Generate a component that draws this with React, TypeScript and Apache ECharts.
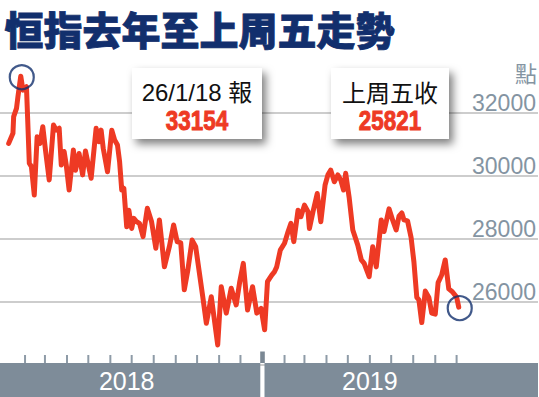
import React, { useEffect, useRef } from 'react';
import * as echarts from 'echarts';

const TITLE = '恒指去年至上周五走勢';
const UNIT = '點';
const PEAK_LABEL = '26/1/18 報';
const PEAK_VALUE = '33154';
const LAST_LABEL = '上周五收';
const LAST_VALUE = '25821';

const dates = [
  '2018-01-09','2018-01-15','2018-01-16','2018-01-20','2018-01-22','2018-01-26','2018-01-29','2018-02-03',
  '2018-02-07','2018-02-10','2018-02-14','2018-02-18','2018-02-22','2018-02-26','2018-03-02','2018-03-07',
  '2018-03-13','2018-03-17','2018-03-21','2018-03-24','2018-03-28','2018-03-31','2018-04-04','2018-04-10',
  '2018-04-13','2018-04-18','2018-04-23','2018-04-27','2018-05-05','2018-05-12','2018-05-16','2018-05-19',
  '2018-05-22','2018-05-28','2018-06-03','2018-06-07','2018-06-11','2018-06-14','2018-06-17','2018-06-20',
  '2018-06-24','2018-06-27','2018-07-01','2018-07-04','2018-07-08','2018-07-12','2018-07-17','2018-07-23',
  '2018-07-29','2018-08-04','2018-08-09','2018-08-16','2018-08-23','2018-08-29','2018-09-03','2018-09-08',
  '2018-09-13','2018-09-18','2018-09-24','2018-09-29','2018-10-09','2018-10-14','2018-10-21','2018-10-30',
  '2018-11-04','2018-11-11','2018-11-18','2018-11-25','2018-11-30','2018-12-05','2018-12-11','2018-12-18',
  '2018-12-24','2018-12-30','2019-01-04','2019-01-08','2019-01-14','2019-01-18','2019-01-21','2019-01-26',
  '2019-02-01','2019-02-06','2019-02-10','2019-02-14','2019-02-20','2019-02-24','2019-03-01','2019-03-06',
  '2019-03-08','2019-03-13','2019-03-19','2019-03-24','2019-03-30','2019-04-03','2019-04-07','2019-04-12',
  '2019-04-17','2019-04-21','2019-04-25','2019-04-28','2019-05-03','2019-05-08','2019-05-15','2019-05-20',
  '2019-05-24','2019-05-31','2019-06-05','2019-06-10','2019-06-17','2019-06-21','2019-06-28','2019-07-03',
  '2019-07-08','2019-07-12','2019-07-16','2019-07-19','2019-07-24','2019-07-29','2019-08-02','2019-08-06',
  '2019-08-09','2019-08-13','2019-08-18','2019-08-23','2019-08-27','2019-09-01','2019-09-05','2019-09-10',
  '2019-09-15','2019-09-20','2019-09-25','2019-10-01','2019-10-04'
];

const values = [
  31020,31340,31870,32130,32500,33154,32710,32820,
  30390,30280,29380,31230,31020,31550,30760,29860,
  31600,31440,31500,30330,30760,30330,29540,30810,
  30170,30700,30020,30780,29910,31500,31070,31440,
  30860,30120,31440,31130,30970,30440,29540,29590,
  28370,28900,28320,28640,28530,28480,28060,28960,
  28530,27690,28590,27100,27740,28430,27900,27860,
  26370,27000,27950,27740,26150,25310,26150,24620,
  26470,25630,26420,25890,26630,27210,25730,26470,
  25630,25780,25100,26630,26840,26950,27100,27630,
  27850,28220,28480,27900,28900,28690,29060,28850,
  28320,28850,29430,28530,29700,30020,30170,29800,
  30020,29860,29540,30070,29280,28270,27790,27320,
  27210,26790,27740,27100,28590,28220,28940,28590,
  28270,28710,28810,28590,28560,28030,27250,26130,
  26050,25330,26330,26130,25630,25600,26600,26840,
  27320,26400,26310,26140,25821
];

const yMin = 24000;
const yMax = 32000;
const yInterval = 2000;

const monthTicks = [
  '2018-02-01','2018-03-01','2018-04-01','2018-05-01','2018-06-01','2018-07-01','2018-08-01',
  '2018-09-01','2018-10-01','2018-11-01','2018-12-01',
  '2019-02-01','2019-03-01','2019-04-01','2019-05-01','2019-06-01','2019-07-01','2019-08-01',
  '2019-09-01','2019-10-01'
];
const yearTicks = ['2019-01-01'];
const yearNames = ['2018', '2019'];
const yearStarts = ['2017-12-01', '2019-01-01'];
const yearEnds = ['2019-01-01', '2020-03-01'];
const yearLabelAt = ['2018-06-24', '2019-06-01'];
const markedDates = ['2018-01-26', '2019-10-04'];

const DAY = 86400000;
const toTs = (s: string) => {
  const [y, m, d] = s.split('-').map(Number);
  return Date.UTC(y, m - 1, d);
};

const X_MIN = toTs('2018-01-01') - 4.21 * DAY;
const X_MAX = X_MIN + 756.7 * DAY;

const RED = '#ee3a24';
const NAVY = '#122f6d';
const AXIS_TEXT = '#8494a2';
const BAR = '#7e8c99';

export default function App() {
  const ref = useRef<HTMLDivElement>(null);
  useEffect(() => {
    if (!ref.current) return;
    const chart = echarts.init(ref.current, null, { renderer: 'svg' });
    const lineData = dates.map((d, i) => [toTs(d), values[i]]);
    const marks = markedDates.map((d) => [toTs(d), values[dates.indexOf(d)]]);
    const bands = yearNames.map((_, i) => [toTs(yearStarts[i]), toTs(yearEnds[i]), toTs(yearLabelAt[i])]);

    const numStyle = {
      fill: RED,
      stroke: RED,
      lineWidth: 1,
      fontSize: 28,
      fontWeight: 'bold',
      fontFamily: '"Liberation Sans", Arial, sans-serif',
      align: 'center',
      verticalAlign: 'middle',
    };

    chart.setOption({
      animation: false,
      backgroundColor: '#ffffff',
      grid: { left: 0, right: 0, top: 112.5, bottom: 32.5, containLabel: false },
      xAxis: {
        type: 'time',
        min: X_MIN,
        max: X_MAX,
        axisLine: { show: false },
        axisTick: { show: false },
        axisLabel: { show: false },
        splitLine: { show: false },
      },
      yAxis: {
        type: 'value',
        position: 'right',
        min: yMin,
        max: yMax,
        interval: yInterval,
        axisLine: { show: false },
        axisTick: { show: false },
        axisLabel: {
          inside: true,
          margin: 2,
          align: 'right',
          verticalAlign: 'bottom',
          lineHeight: 20,
          color: AXIS_TEXT,
          fontSize: 23,
          fontFamily: '"Liberation Sans", Arial, sans-serif',
          formatter: (v: number) => (v <= yMin ? '' : String(v)),
        },
        splitLine: { lineStyle: { color: '#bdbdbd', width: 1.5 } },
      },
      series: [
        {
          type: 'line',
          data: lineData,
          clip: false,
          showSymbol: false,
          symbol: 'none',
          lineStyle: { color: RED, width: 5, join: 'round', cap: 'round' },
          z: 3,
        },
        {
          type: 'scatter',
          data: marks,
          clip: false,
          symbol: 'circle',
          symbolSize: 24,
          symbolOffset: [1, 1],
          itemStyle: { color: 'rgba(0,0,0,0)', borderColor: NAVY, borderWidth: 2.2 },
          z: 4,
        },
        {
          type: 'custom',
          data: monthTicks.map((d) => [toTs(d)]),
          encode: { x: 0 },
          clip: false,
          z: 5,
          renderItem: (params: any, api: any) => {
            const cs = params.coordSys;
            const x = api.coord([api.value(0), yMin])[0];
            const bottom = cs.y + cs.height - 1.5;
            return {
              type: 'rect',
              shape: { x: x - 1, y: bottom - 8, width: 2, height: 8 },
              style: { fill: '#8e9ba7' },
            };
          },
        },
        {
          type: 'custom',
          data: yearTicks.map((d) => [toTs(d)]),
          encode: { x: 0 },
          clip: false,
          z: 5,
          renderItem: (params: any, api: any) => {
            const cs = params.coordSys;
            const x = api.coord([api.value(0), yMin])[0];
            const bottom = cs.y + cs.height - 1.5;
            return {
              type: 'rect',
              shape: { x: x - 2.3, y: bottom - 11.5, width: 4.6, height: 11.5 },
              style: { fill: '#7b8894' },
            };
          },
        },
        {
          type: 'custom',
          data: bands,
          encode: { x: [0, 1, 2] },
          clip: false,
          z: 6,
          renderItem: (params: any, api: any) => {
            const cs = params.coordSys;
            const top = cs.y + cs.height - 1.5;
            let x0 = api.coord([api.value(0), yMin])[0] + 2;
            let x1 = api.coord([api.value(1), yMin])[0] - 2.2;
            x0 = Math.max(x0, cs.x);
            x1 = Math.min(x1, cs.x + cs.width);
            const lx = api.coord([api.value(2), yMin])[0];
            return {
              type: 'group',
              children: [
                { type: 'rect', shape: { x: x0, y: top, width: x1 - x0, height: 40 }, style: { fill: BAR } },
                {
                  type: 'text',
                  x: lx,
                  y: top + 17.5,
                  style: {
                    text: yearNames[params.dataIndex],
                    fill: '#ffffff',
                    fontSize: 25,
                    fontFamily: '"Liberation Sans", Arial, sans-serif',
                    align: 'center',
                    verticalAlign: 'middle',
                  },
                },
              ],
            };
          },
        },
      ],
      graphic: {
        elements: [
          {
            type: 'text',
            left: 4,
            top: 8,
            z: 100,
            style: {
              text: TITLE,
              fill: NAVY,
              stroke: NAVY,
              lineWidth: 0.8,
              fontSize: 39,
              fontWeight: 900,
              fontFamily: '"Noto Sans CJK TC", "Noto Sans CJK SC", sans-serif',
            },
          },
          {
            type: 'text',
            right: 2,
            top: 61,
            z: 100,
            style: {
              text: UNIT,
              fill: AXIS_TEXT,
              fontSize: 22,
              fontFamily: '"Noto Sans CJK TC", sans-serif',
            },
          },
          {
            type: 'rect',
            z: 100,
            shape: { x: 132, y: 68, width: 130, height: 71 },
            style: { fill: '#ffffff', shadowBlur: 8, shadowOffsetX: 4, shadowOffsetY: 5, shadowColor: 'rgba(0,0,0,0.5)' },
          },
          {
            type: 'rect',
            z: 100,
            shape: { x: 331, y: 68, width: 118, height: 71 },
            style: { fill: '#ffffff', shadowBlur: 8, shadowOffsetX: 4, shadowOffsetY: 5, shadowColor: 'rgba(0,0,0,0.5)' },
          },
          {
            type: 'text',
            z: 101,
            x: 197,
            y: 92,
            style: {
              text: PEAK_LABEL,
              fill: '#111111',
              fontSize: 24,
              fontFamily: '"Liberation Sans", "Noto Sans CJK TC", sans-serif',
              align: 'center',
              verticalAlign: 'middle',
            },
          },
          {
            type: 'text',
            z: 101,
            x: 197,
            y: 120,
            scaleX: 0.8,
            style: { text: PEAK_VALUE, ...numStyle },
          },
          {
            type: 'text',
            z: 101,
            x: 390,
            y: 91,
            style: {
              text: LAST_LABEL,
              fill: '#111111',
              fontSize: 24,
              fontFamily: '"Noto Sans CJK TC", sans-serif',
              align: 'center',
              verticalAlign: 'middle',
            },
          },
          {
            type: 'text',
            z: 101,
            x: 390,
            y: 120,
            scaleX: 0.8,
            style: { text: LAST_VALUE, ...numStyle },
          },
        ],
      },
    });
    return () => chart.dispose();
  }, []);
  return (
    <div
      ref={ref}
      style={{ position: 'fixed', left: 0, top: 0, width: 539, height: 397, background: '#ffffff' }}
    />
  );
}
